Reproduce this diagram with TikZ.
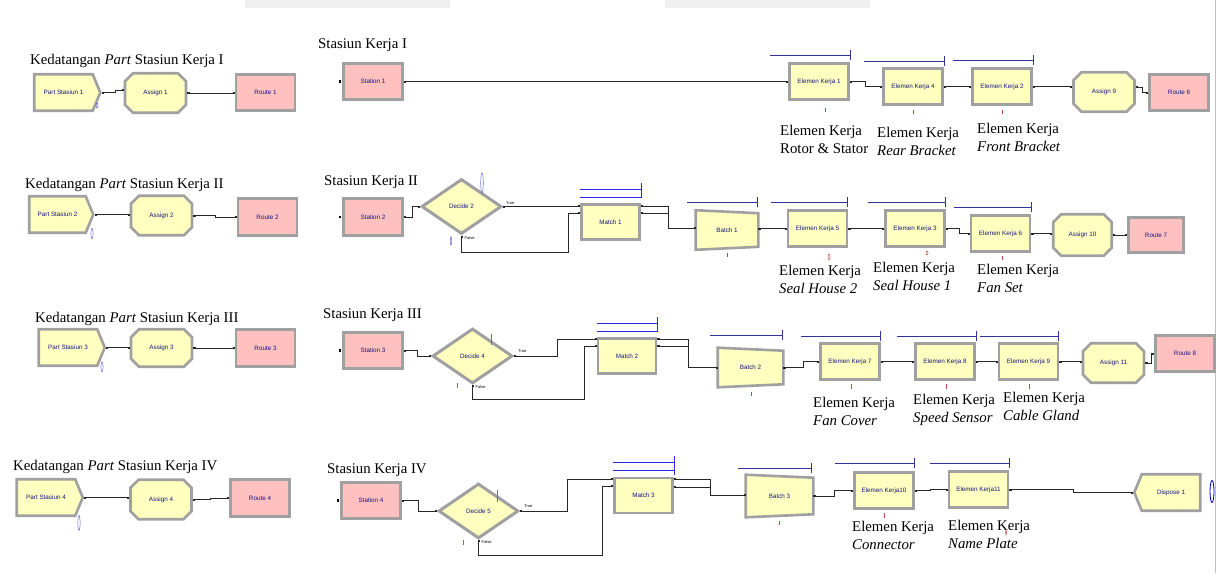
\documentclass[tikz,border=0pt]{standalone}
\usepackage{fontspec}
\setmainfont{Liberation Serif}
\setsansfont{Liberation Sans}
\usetikzlibrary{shapes.misc,shapes.symbols,shapes.geometric,arrows.meta,calc,backgrounds}
\definecolor{ayel}{RGB}{255,255,192}
\definecolor{apink}{RGB}{255,192,192}
\definecolor{agray}{RGB}{160,160,160}
\definecolor{atext}{RGB}{20,20,130}
\definecolor{qbar}{RGB}{50,50,160}
\definecolor{mbar}{RGB}{40,40,230}
\definecolor{ared}{RGB}{190,70,70}
\definecolor{bmk}{RGB}{110,100,210}
\tikzset{
 modbase/.style={draw=agray, line width=2.6pt, inner sep=0pt, line join=miter,
   font=\sffamily\fontsize{6.3}{7}\selectfont, text=atext},
 procbox/.style={modbase, rectangle, fill=ayel, minimum width=59pt, minimum height=36pt},
 matchbox/.style={modbase, rectangle, fill=ayel, minimum width=58pt, minimum height=35pt},
 routebox/.style={modbase, rectangle, fill=apink, minimum width=59pt, minimum height=36.5pt},
 assignbox/.style={modbase, chamfered rectangle, chamfered rectangle xsep=5pt, chamfered rectangle ysep=5pt,
   fill=ayel, minimum width=61pt, minimum height=39.5pt},
 createbox/.style={modbase, signal, signal to=east, signal pointer angle=135, fill=ayel,
   minimum width=66pt, minimum height=36.5pt},
 disposebox/.style={modbase, signal, signal to=west, signal pointer angle=135, fill=ayel,
   minimum width=66pt, minimum height=36.5pt},
 decidebox/.style={modbase, diamond, fill=ayel, minimum width=80pt, minimum height=55pt, line width=3pt},
 batchbox/.style={modbase, rectangle, draw=none, minimum width=60pt, minimum height=37pt},
 conn/.style={draw=black!85, line width=0.8pt, {Square[length=2pt,width=2pt]}-{Square[length=2pt,width=2pt]}},
 connstub/.style={draw=black!85, line width=0.8pt, {Square[length=2pt,width=2pt]}-},
 qline/.style={draw=qbar, line width=0.7pt},
 mline/.style={draw=mbar, line width=0.8pt},
 rmark/.style={draw=ared, line width=0.5pt},
 bmark/.style={draw=bmk, line width=0.5pt},
 ttl/.style={anchor=north west, inner sep=0pt, font=\fontsize{14.8}{18}\selectfont},
 lbl/.style={anchor=north west, inner sep=0pt, align=left, font=\fontsize{14.8}{18}\selectfont},
 tflbl/.style={inner sep=0pt, font=\sffamily\fontsize{4}{4}\selectfont},
}
\begin{document}
\begin{tikzpicture}[x=1pt,y=-1pt]
\useasboundingbox (0,0) rectangle (1220,573);
% ---------- Row 1 ----------
\node[createbox] (ps1) at (63.5,92.5) {Part Stasiun 1};
\node[assignbox] (as1) at (155.5,93) {Assign 1};
\node[routebox] (rt1) at (265.5,92.5) {Route 1};
\node[routebox] (st1) at (373,81.5) {Station 1};
\node[procbox] (ek1) at (819,81.5) {Elemen Kerja 1};
\node[procbox] (ek4) at (913,86.5) {Elemen Kerja 4};
\node[procbox] (ek2) at (1002,86.5) {Elemen Kerja 2};
\node[assignbox] (as9) at (1104,92) {Assign 9};
\node[routebox] (rt6) at (1179,92.5) {Route 6};
% ---------- Row 2 ----------
\node[createbox, minimum width=64pt] (ps2) at (57.5,214.5) {Part Stasiun 2};
\node[assignbox] (as2) at (161.5,215.5) {Assign 2};
\node[routebox] (rt2) at (267.5,217) {Route 2};
\node[routebox, minimum height=37.5pt] (st2) at (373,217) {Station 2};
\node[decidebox] (de2) at (461.5,206.5) {Decide 2};
\node[matchbox] (ma1) at (610.5,222) {Match 1};
\node[batchbox] (ba1) at (727,230) {Batch 1};
\node[procbox] (ek5) at (817.5,228.5) {Elemen Kerja 5};
\node[procbox] (ek3) at (915,228.5) {Elemen Kerja 3};
\node[procbox] (ek6) at (1000.5,233.5) {Elemen Kerja 6};
\node[assignbox, minimum height=41.5pt, minimum width=58.5pt] (as10) at (1082.5,235) {Assign 10};
\node[routebox, minimum width=55.5pt, minimum height=35.5pt] (rt7) at (1156,235) {Route 7};
% ---------- Row 3 ----------
\node[createbox] (ps3) at (68,347.5) {Part Stasiun 3};
\node[assignbox, minimum height=37.5pt] (as3) at (161.5,348) {Assign 3};
\node[routebox] (rt3) at (265.5,348) {Route 3};
\node[routebox] (st3) at (373,350.5) {Station 3};
\node[decidebox] (de4) at (472.5,356) {Decide 4};
\node[matchbox] (ma2) at (627,356) {Match 2};
\node[batchbox, minimum width=63pt] (ba2) at (750.5,367.5) {Batch 2};
\node[procbox] (ek7) at (850,361.5) {Elemen Kerja 7};
\node[procbox] (ek8) at (945,361.5) {Elemen Kerja 8};
\node[procbox] (ek9) at (1028.5,361.5) {Elemen Kerja 9};
\node[assignbox] (as11) at (1113.5,363) {Assign 11};
\node[routebox] (rt8) at (1185,353.5) {Route 8};
% ---------- Row 4 ----------
\node[createbox] (ps4) at (46,497.5) {Part Stasiun 4};
\node[assignbox] (as4) at (161,499.5) {Assign 4};
\node[routebox] (rt4) at (260,498) {Route 4};
\node[routebox] (st4) at (371,500.5) {Station 4};
\node[decidebox] (de5) at (478.5,511) {Decide 5};
\node[matchbox] (ma3) at (643.5,495.5) {Match 3};
\node[batchbox, minimum width=65pt, minimum height=40pt] (ba3) at (779.5,496) {Batch 3};
\node[procbox] (ek10) at (884,490.5) {Elemen Kerja10};
\node[procbox] (ek11) at (978.5,489.5) {Elemen Kerja11};
\node[disposebox] (dp1) at (1171,492.5) {Dispose 1};
% ---------- background: page, batch shapes ----------
\begin{scope}[on background layer]
\fill[white] (0,0) rectangle (1220,573);
\fill[black!6] (245,0) rectangle (450,8);
\fill[black!6] (665,0) rectangle (870,8);
\draw[black!25, line width=1pt] (1215,0) -- (1215,573);
\foreach \b in {ba1,ba2,ba3} {
  \filldraw[fill=ayel, draw=agray, line width=2.6pt, line join=miter]
    (\b.north west) -- ($(\b.north east)+(0,3)$) -- ($(\b.south east)+(0,-3)$) -- (\b.south west) -- cycle;
}
\end{scope}
% ---------- titles ----------
\node[ttl] (h1) at (30,54) {Kedatangan \textit{Part} Stasiun Kerja I};
\node[ttl] (s1) at (318,38) {Stasiun Kerja I};
\node[ttl] (h2) at (25,178) {Kedatangan \textit{Part} Stasiun Kerja II};
\node[ttl] (s2) at (324,175) {Stasiun Kerja II};
\node[ttl] (h3) at (35,312) {Kedatangan \textit{Part} Stasiun Kerja III};
\node[ttl] (s3) at (323,308) {Stasiun Kerja III};
\node[ttl] (h4) at (13,460) {Kedatangan \textit{Part} Stasiun Kerja IV};
\node[ttl] (s4) at (327,463) {Stasiun Kerja IV};
% ---------- element labels ----------
\node[lbl] (l1) at (780,125) {Elemen Kerja\\Rotor \& Stator};
\node[lbl] (l4) at (877,127) {Elemen Kerja\\\textit{Rear Bracket}};
\node[lbl] (l2) at (977,123) {Elemen Kerja\\\textit{Front Bracket}};
\node[lbl] (l5) at (779,265) {Elemen Kerja\\\textit{Seal House 2}};
\node[lbl] (l3) at (873,262) {Elemen Kerja\\\textit{Seal House 1}};
\node[lbl] (l6) at (977,264) {Elemen Kerja\\\textit{Fan Set}};
\node[lbl] (l7) at (813,397) {Elemen Kerja\\\textit{Fan Cover}};
\node[lbl] (l8) at (913,394) {Elemen Kerja\\\textit{Speed Sensor}};
\node[lbl] (l9) at (1003,392) {Elemen Kerja\\\textit{Cable Gland}};
\node[lbl] (l10) at (852,521) {Elemen Kerja\\\textit{Connector}};
\node[lbl] (l11) at (948,520) {Elemen Kerja\\\textit{Name Plate}};
% ---------- True / False ----------
\node[tflbl, anchor=south west] (t2) at ($(de2.east)+(3,-2)$) {True};
\node[tflbl, anchor=north west] (f2) at ($(de2.south)+(3,1)$) {False};
\node[tflbl, anchor=south west] (t4) at ($(de4.east)+(4,-3)$) {True};
\node[tflbl, anchor=north west] (f4) at ($(de4.south)+(3,0)$) {False};
\node[tflbl, anchor=south west] (t5) at ($(de5.east)+(4,-3)$) {True};
\node[tflbl, anchor=north west] (f5) at ($(de5.south)+(3,0)$) {False};
% ---------- station input stubs ----------
\foreach \s in {st1,st2,st3,st4} {
  \fill[black] ($(\s.west)+(-3.5,-1.3)$) rectangle ($(\s.west)+(-1,1.3)$);
}
% ---------- connectors row 1 ----------
\draw[conn] (ps1.east) -- ++(14,0) |- ($(as1.west)+(0,-3)$);
\draw[conn] (as1.east) -- (as1.east -| rt1.west);
\draw[conn] (st1.east) -- (ek1.west);
\draw[conn] (ek1.east) -- ++(16,0) |- (ek4.west);
\draw[conn] (ek4.east) -- (ek2.west);
\draw[conn] (ek2.east) -- (ek2.east -| as9.west);
\draw[conn] ($(as9.east)+(0,-5)$) -- ++(7,0) |- (rt6.west);
% ---------- connectors row 2 ----------
\draw[conn] (ps2.east) -- (ps2.east -| as2.west);
\draw[conn] (as2.east) -- ++(22,0) |- (rt2.west);
\draw[conn] (st2.east) -- ++(9,0) |- (de2.west);
\draw[conn] (de2.east) -- ++(39,0) |- ($(ma1.west)+(0,-16)$);
\draw[conn] (de2.south) -- ++(0,17) -| ($(ma1.west)+(-12,-9)$) -- ($(ma1.west)+(0,-9)$);
\draw[conn] ($(ma1.east)+(0,-16)$) -- ++(28,0) |- ($(ba1.west)+(0,-2)$);
\draw[connstub] ($(ma1.east)+(0,-9)$) -- ++(28,0);
\draw[conn] (ek5.west -| ba1.east) -- (ek5.west);
\draw[conn] (ek5.east) -- (ek3.west);
\draw[conn] (ek3.east) -- ++(14,0) |- (ek6.west);
\draw[conn] (ek6.east) -- (ek6.east -| as10.west);
\draw[conn] (as10.east) -- (rt7.west);
% ---------- connectors row 3 ----------
\draw[conn] (ps3.east) -- (ps3.east -| as3.west);
\draw[conn] (as3.east) -- (as3.east -| rt3.west);
\draw[conn] (st3.east) -- ++(14,0) |- (de4.west);
\draw[conn] (de4.east) -- ++(43,0) |- ($(ma2.west)+(0,-17)$);
\draw[conn] (de4.south) -- ++(0,14) -| ($(ma2.west)+(-12,-10)$) -- ($(ma2.west)+(0,-10)$);
\draw[conn] ($(ma2.east)+(0,-17)$) -- ++(31,0) |- (ba2.west);
\draw[connstub] ($(ma2.east)+(0,-10)$) -- ++(31,0);
\draw[conn] (ba2.east) -- ++(20,0) |- (ek7.west);
\draw[conn] (ek7.east) -- (ek8.west);
\draw[conn] (ek8.east) -- (ek9.west);
\draw[conn] (ek9.east) -- (ek9.east -| as11.west);
\draw[conn] (as11.east) -- ++(6,0) |- (rt8.west);
% ---------- connectors row 4 ----------
\draw[conn] (ps4.east) -- (ps4.east -| as4.west);
\draw[conn] (as4.east) -- ++(18,0) |- (rt4.west);
\draw[conn] (st4.east) -- ++(17,0) |- (de5.west);
\draw[conn] (de5.east) -- ++(47,0) |- ($(ma3.west)+(0,-16.5)$);
\draw[conn] (de5.south) -- ++(0,15) -| ($(ma3.west)+(-11,-9.5)$) -- ($(ma3.west)+(0,-9.5)$);
\draw[conn] ($(ma3.east)+(0,-16.5)$) -- ++(37,0) |- ($(ba3.west)+(0,-1)$);
\draw[connstub] ($(ma3.east)+(0,-8.5)$) -- ++(37,0);
\draw[conn] (ba3.east) -- ++(21,0) |- (ek10.west);
\draw[conn] (ek10.east) -- ++(16,0) |- (ek11.west);
\draw[conn] (ek11.east) -- ++(64,0) |- (dp1.west);
% ---------- queue bars ----------
\draw[qline] (770,55) -- (850,55) (850,50) -- (850,60);
\draw[qline] (864,61) -- (944,61) (944,56) -- (944,66);
\draw[qline] (953,60) -- (1033,60) (1033,55) -- (1033,65);
\draw[qline] (687,202) -- (757,202) (757,197) -- (757,207);
\draw[qline] (771,202) -- (847,202) (847,197) -- (847,207);
\draw[qline] (868,202) -- (945,202) (945,197) -- (945,207);
\draw[qline] (954,207) -- (1031,207) (1031,202) -- (1031,212);
\draw[qline] (710,335) -- (782,335) (782,330) -- (782,340);
\draw[qline] (801,336) -- (880,336) (880,331) -- (880,341);
\draw[qline] (897,336) -- (976,336) (976,331) -- (976,341);
\draw[qline] (980,336) -- (1058,336) (1058,331) -- (1058,341);
\draw[qline] (738,468) -- (811,468) (811,463) -- (811,473);
\draw[qline] (835,463) -- (914,463) (914,458) -- (914,468);
\draw[qline] (930,463) -- (1009,463) (1009,458) -- (1009,468);
\draw[mline] (580,189) -- (641,189) (580,197) -- (641,197) (641,183) -- (641,198);
\draw[mline] (597,323) -- (657,323) (597,331) -- (657,331) (657,317) -- (657,332);
\draw[mline] (613,462) -- (674,462) (613,470) -- (674,470) (674,456) -- (674,475);
% ---------- entity / counter markers ----------
\draw[bmark] (97,105.5) ellipse (0.9 and 2.6);
\draw[bmark] (92,233.5) ellipse (1.1 and 5.2);
\draw[bmark] (102,367) ellipse (1.1 and 5);
\draw[bmark] (79,523) ellipse (1.1 and 7.5);
\draw[bmark] (482,183) ellipse (1.3 and 10);
\draw[bmark] (451,241) ellipse (0.8 and 4);
\draw[bmark] (491,334) -- (491,345);
\draw[bmark] (457,383) -- (457,388);
\draw[bmark] (497,490) -- (497,502);
\draw[bmark] (463,540) -- (463,545);
\draw[bmark, draw=blue!80!black, line width=0.8pt] (1212,491.5) ellipse (2 and 11);
\draw[rmark] (825,108) -- (825,112);
\draw[rmark] (913,110) -- (913,114);
\draw[rmark] (1002,110) -- (1002,114);
\draw[rmark] (727,253) -- (727,257);
\draw[rmark] (829,257) ellipse (1 and 3);
\draw[rmark] (927,253) ellipse (1 and 2);
\draw[rmark] (1002,256) -- (1002,260);
\draw[rmark] (751,392) -- (751,396);
\draw[rmark] (851,384) -- (851,389);
\draw[rmark] (946,384) -- (946,389);
\draw[rmark] (1029,384) -- (1029,389);
\draw[rmark] (779,521) -- (779,525);
\draw[rmark] (884,513) -- (884,518);
\draw[rmark] (1005,530) -- (1006,535) -- (1007,530);
\end{tikzpicture}
\end{document}
